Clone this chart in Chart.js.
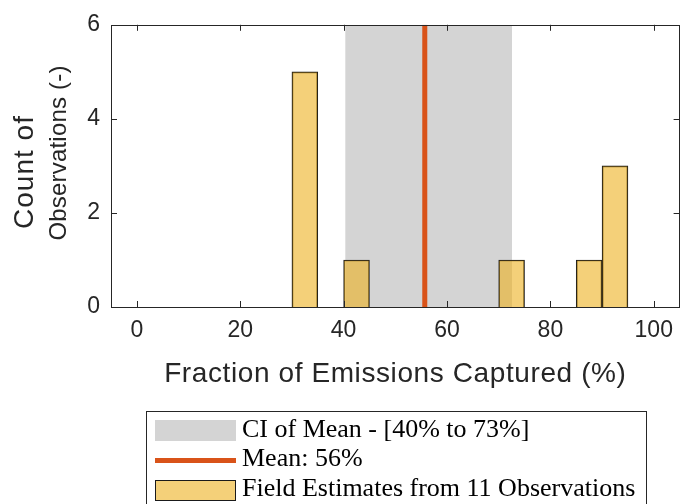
<!DOCTYPE html>
<html>
<head>
<meta charset="utf-8">
<script src="https://cdn.jsdelivr.net/npm/chart.js@4.4.0/dist/chart.umd.min.js"></script>
<style>
  html, body { margin: 0; padding: 0; background: #fff; }
</style>
</head>
<body>
<canvas id="histChart" width="683" height="504"></canvas>
<script>
// histogram bins (centres, 5% wide) and counts
const binCenters = [32.5, 42.5, 72.5, 87.5, 92.5];
const binCounts = [5, 1, 1, 1, 3];

// confidence interval of the mean and the mean itself (%)
const ciLow = 40.3;
const ciHigh = 72.6;
const meanValue = 55.7;

const xTicks = [0, 20, 40, 60, 80, 100];
const yTicks = [0, 2, 4, 6];

const legendLabels = [
    'CI of Mean - [40% to 73%]',
    'Mean: 56%',
    'Field Estimates from 11 Observations'
];

const axisColor = '#262626';
const sansFont = '"Liberation Sans", Arial, sans-serif';
const serifFont = '"Liberation Serif", "DejaVu Serif", serif';
const barFill = 'rgba(237, 177, 32, 0.6)';
const bandFill = '#d4d4d4';
const meanColor = '#d95319';

// inward ticks on all four sides, full box, axis titles, boxed legend
const boxPlugin = {
    id: 'boxPlugin',
    afterDraw(chart) {
        const ctx = chart.ctx;
        const a = chart.chartArea;
        const xs = chart.scales.x, ys = chart.scales.y;
        const len = 6;
        ctx.save();
        ctx.strokeStyle = axisColor;
        ctx.lineWidth = 1;
        ctx.beginPath();
        xTicks.forEach(v => {
            const px = Math.round(xs.getPixelForValue(v)) + 0.5;
            ctx.moveTo(px, a.bottom); ctx.lineTo(px, a.bottom - len);
            ctx.moveTo(px, a.top); ctx.lineTo(px, a.top + len);
        });
        yTicks.forEach(v => {
            const py = Math.round(ys.getPixelForValue(v)) + 0.5;
            ctx.moveTo(a.left, py); ctx.lineTo(a.left + len, py);
            ctx.moveTo(a.right, py); ctx.lineTo(a.right - len, py);
        });
        ctx.stroke();
        ctx.strokeRect(Math.round(a.left) + 0.5, Math.round(a.top) + 0.5,
            Math.round(a.right - a.left) - 1, Math.round(a.bottom - a.top));

        // axis titles
        ctx.fillStyle = axisColor;
        ctx.textAlign = 'center';
        ctx.textBaseline = 'alphabetic';
        ctx.font = '28px ' + sansFont;
        ctx.letterSpacing = '0.6px';
        ctx.fillText('Fraction of Emissions Captured (%)', xs.getPixelForValue(50), 382);

        ctx.save();
        ctx.translate(33, 172);
        ctx.rotate(-Math.PI / 2);
        ctx.font = '28px ' + sansFont;
        ctx.letterSpacing = '1px';
        ctx.fillText('Count of', 0, 0);
        ctx.restore();
        ctx.save();
        ctx.translate(66, 153);
        ctx.rotate(-Math.PI / 2);
        ctx.font = '24px ' + sansFont;
        ctx.letterSpacing = '0.2px';
        ctx.fillText('Observations (-)', 0, 0);
        ctx.restore();
        ctx.letterSpacing = '0px';

        // legend
        const lx = 146.5, ly = 411.5, lw = 500;
        ctx.fillStyle = '#fff';
        ctx.fillRect(lx, ly, lw, 100);
        ctx.strokeStyle = axisColor;
        ctx.strokeRect(lx, ly, lw, 100);
        ctx.fillStyle = bandFill;
        ctx.fillRect(155, 420, 81, 21);
        ctx.fillStyle = meanColor;
        ctx.fillRect(155, 458, 81, 5);
        ctx.fillStyle = barFill;
        ctx.fillRect(155, 480, 81, 21);
        ctx.strokeStyle = '#1a1a1a';
        ctx.strokeRect(155.5, 480.5, 80, 20);

        ctx.fillStyle = '#000';
        ctx.font = '26px ' + serifFont;
        ctx.textAlign = 'left';
        const baselines = [437, 466, 496];
        legendLabels.forEach((t, i) => ctx.fillText(t, 242, baselines[i]));
        ctx.restore();
    }
};

new Chart(document.getElementById('histChart'), {
    type: 'bar',
    data: {
        datasets: [{
            label: legendLabels[2],
            data: binCenters.map((c, i) => ({ x: c, y: binCounts[i] })),
            backgroundColor: barFill,
            borderColor: '#1a1a1a',
            borderWidth: 1,
            barPercentage: 1,
            categoryPercentage: 1,
            order: 0
        }, {
            type: 'line',
            label: legendLabels[1],
            data: [{ x: meanValue, y: 0 }, { x: meanValue, y: 6 }],
            borderColor: meanColor,
            borderWidth: 5,
            pointRadius: 0,
            fill: false,
            order: 1
        }, {
            type: 'line',
            label: legendLabels[0],
            data: [{ x: ciLow, y: 6 }, { x: ciHigh, y: 6 }],
            borderWidth: 0,
            borderColor: 'rgba(0,0,0,0)',
            backgroundColor: bandFill,
            pointRadius: 0,
            fill: 'origin',
            order: 2
        }]
    },
    options: {
        responsive: false,
        animation: false,
        layout: { padding: { top: 21, right: 1, left: 0, bottom: 0 } },
        plugins: { legend: { display: false }, tooltip: { enabled: false } },
        scales: {
            x: {
                type: 'linear',
                min: -5,
                max: 105,
                offset: false,
                afterBuildTicks: s => { s.ticks = xTicks.map(v => ({ value: v })); },
                afterFit: s => { s.height = 197; },
                grid: { display: false, drawTicks: false },
                border: { display: false },
                ticks: { color: axisColor, font: { family: sansFont, size: 23 }, padding: 10, maxRotation: 0 }
            },
            y: {
                min: 0,
                max: 6,
                afterBuildTicks: s => { s.ticks = yTicks.map(v => ({ value: v })); },
                afterFit: s => { s.width = 111; },
                grid: { display: false, drawTicks: false },
                border: { display: false },
                ticks: { color: axisColor, font: { family: sansFont, size: 23 }, padding: 11 }
            }
        }
    },
    plugins: [boxPlugin]
});
</script>
</body>
</html>
